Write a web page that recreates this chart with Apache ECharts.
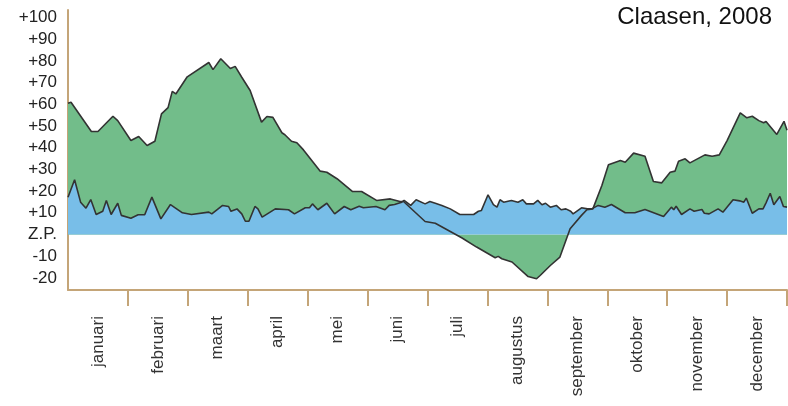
<!DOCTYPE html>
<html>
<head>
<meta charset="utf-8">
<script src="https://cdn.jsdelivr.net/npm/echarts@6/dist/echarts.min.js"></script>
<style>
  html, body { margin: 0; padding: 0; background: #fff; }
  #chart { width: 788px; height: 406px; }
</style>
</head>
<body>
<div id="chart"></div>
<script>
// maanden op de x-as
var months = ['januari', 'februari', 'maart', 'april', 'mei', 'juni', 'juli',
  'augustus', 'september', 'oktober', 'november', 'december']

// labels op de y-as
var yTicks = [100, 90, 80, 70, 60, 50, 40, 30, 20, 10, 0, -10, -20]

// bovenste lijn (groen vlak), positie in maanden
var greenPos = [0, 0.05, 0.39, 0.5, 0.75, 0.83, 1.05, 1.18, 1.32, 1.45, 1.56, 1.67, 1.74, 1.8, 1.99,
  2.35, 2.42, 2.55, 2.71, 2.79, 2.9, 3.04, 3.23, 3.32, 3.42, 3.57, 3.62, 3.73, 3.82, 3.93,
  4.21, 4.32, 4.49, 4.75, 4.9, 5.15, 5.38, 5.54, 5.6, 5.96, 6.13, 6.57, 6.82, 7.13, 7.18,
  7.24, 7.41, 7.68, 7.82, 7.88, 8.05, 8.21, 8.38, 8.57, 8.66, 8.76, 8.91, 9.02, 9.22, 9.3,
  9.44, 9.63, 9.77, 9.91, 10.05, 10.13, 10.19, 10.3, 10.38, 10.63, 10.75, 10.87, 11.0,
  11.22, 11.33, 11.42, 11.53, 11.61, 11.65, 11.83, 11.95, 12.0]
var greenVal = [60.5, 61, 47.5, 47.5, 54.5, 52.5, 43.3, 45.2, 41, 43, 55.6, 58.5, 66, 64.8, 72.7,
  79.3, 76, 81, 76.5, 77.5, 72.5, 66.4, 51.8, 54.4, 54, 46.9, 46, 43, 42.3, 39,
  29.2, 28.7, 25.7, 19.8, 19.8, 15.7, 16.4, 15.2, 15.2, 6, 5.2, -1.5, -5.8, -10.7, -10.1,
  -11.2, -12.7, -19.4, -20.4, -18.9, -14.3, -10.4, 2.6, 8.8, 11.4, 11.8, 22.6, 32.1, 34.1, 33.3,
  37.5, 36.1, 24.4, 23.8, 28.7, 29.2, 33.8, 34.9, 33, 36.7, 36.1, 36.7, 43.3,
  56.1, 53.8, 54.5, 52.5, 51.5, 52.1, 46.1, 52.2, 48]

// onderste lijn (blauw vlak)
var bluePos = [0, 0.11, 0.21, 0.3, 0.38, 0.47, 0.58, 0.64, 0.72, 0.83, 0.89, 1.05, 1.17, 1.28, 1.4,
  1.55, 1.71, 1.91, 2.06, 2.35, 2.4, 2.58, 2.68, 2.72, 2.82, 2.9, 2.96, 3.02, 3.12, 3.17,
  3.24, 3.46, 3.68, 3.78, 3.96, 4.03, 4.08, 4.17, 4.32, 4.45, 4.61, 4.72, 4.86, 4.93, 5.14,
  5.29, 5.36, 5.45, 5.57, 5.61, 5.72, 5.81, 5.96, 6.04, 6.13, 6.24, 6.38, 6.54, 6.77, 6.85,
  6.9, 7.01, 7.1, 7.16, 7.21, 7.27, 7.4, 7.51, 7.59, 7.65, 7.77, 7.84, 7.91, 7.97, 8.05,
  8.15, 8.23, 8.31, 8.39, 8.43, 8.57, 8.67, 8.74, 8.85, 8.96, 9.07, 9.3, 9.46, 9.63, 9.94,
  10.07, 10.11, 10.15, 10.24, 10.38, 10.45, 10.58, 10.62, 10.7, 10.85, 10.93, 11.1, 11.21,
  11.28, 11.32, 11.42, 11.53, 11.6, 11.65, 11.72, 11.78, 11.88, 11.94, 12.0]
var blueVal = [17.2, 25.2, 14.9, 12.1, 16.1, 9.2, 10.7, 15.7, 9.2, 14.4, 8.8, 7.5, 9.1, 9.1, 17.2,
  7.2, 13.8, 10, 9.2, 10.3, 9.5, 13.4, 12.9, 10.7, 11.8, 9.5, 6.1, 6.1, 12.9, 11.8,
  8, 11.8, 11.4, 9.5, 12.3, 12.3, 14.1, 11.4, 14.4, 9.5, 12.9, 11.4, 13, 12.3, 12.9,
  11.4, 13.4, 13.8, 14.9, 15.7, 13.4, 16, 14.1, 15.2, 14.4, 13.4, 11.8, 9.2, 9.2, 10.7,
  11.1, 18.3, 13.8, 12.6, 16, 14.9, 15.7, 14.9, 16, 14.1, 14.1, 15.7, 13.7, 14.4, 12.6,
  13.4, 11.4, 11.8, 10.7, 9.5, 12.3, 11.8, 11.8, 13.4, 12.6, 13.8, 10, 10, 11.5, 8.3,
  12.6, 11.4, 13, 9.2, 11.8, 10.7, 11.5, 9.8, 9.5, 11.8, 10.3, 16, 15.5,
  14.9, 16.8, 9.8, 11.8, 11.8, 14.6, 19, 13.7, 17.5, 12.9, 12.6]

function pairs (xs, ys) {
  return xs.map(function (x, i) { return [x, ys[i]] })
}

var axisColor = '#c4a578'
// smalle letter zoals in het origineel is er niet, Liberation Sans komt het dichtst bij
var labelFont = "'Liberation Sans Narrow', 'Liberation Sans', Arial, sans-serif"

var myChart = echarts.init(document.getElementById('chart'), null, { renderer: 'canvas' })
var myOption = {
  animation : false,
  //bron rechtsboven
  title : {
    text : 'Claasen, 2008',
    right : 11,
    top : 0,
    textStyle : {
      fontFamily : "'Liberation Sans', Arial, sans-serif",
      fontWeight : 'normal',
      fontSize : 24,
      color : '#111'
    }
  },
  //grid 0: data, grid 1: alleen y-labels
  grid : [
    { left : 68, right : 1, top : 10, bottom : 116 },
    { left : 68, right : 1, top : 17.5, bottom : 128.1 }
  ],
  xAxis : [
    {
      type : 'value', gridIndex : 0, min : 0, max : 12,
      show : false
    },
    {
      type : 'category', gridIndex : 0, position : 'bottom',
      data : months,
      boundaryGap : true,
      axisLine : { show : true, onZero : false, lineStyle : { color : axisColor, width : 2 } },
      axisTick : {
        show : true, length : 16,
        interval : function (index) { return index > 0 },
        lineStyle : { color : axisColor, width : 2 }
      },
      axisLabel : {
        rotate : 90, margin : 26, interval : 0,
        fontFamily : labelFont, fontSize : 17, color : '#333'
      },
      splitLine : { show : false }
    },
    {
      type : 'value', gridIndex : 1, min : 0, max : 12, show : false
    }
  ],
  yAxis : [
    {
      type : 'value', gridIndex : 0, min : -25.6, max : 103.5,
      axisLine : { show : true, lineStyle : { color : axisColor, width : 2 } },
      axisTick : { show : false },
      axisLabel : { show : false },
      splitLine : { show : false }
    },
    {
      type : 'value', gridIndex : 1, min : -20, max : 100, interval : 10,
      axisLine : { show : false },
      axisTick : { show : false },
      splitLine : { show : false },
      axisLabel : {
        margin : 11,
        fontFamily : labelFont, fontSize : 17, color : '#222',
        formatter : function (v) {
          if (yTicks.indexOf(v) < 0) return ''
          if (v === 0) return 'Z.P.'
          return v > 0 ? '+' + v : String(v)
        }
      }
    }
  ],
  series : [
    {
      name : 'groen vlak',
      type : 'line', xAxisIndex : 0, yAxisIndex : 0,
      data : pairs(greenPos, greenVal),
      symbol : 'none',
      lineStyle : { width : 0 },
      areaStyle : { color : '#72bd8a', opacity : 1 },
      z : 1
    },
    {
      name : 'blauw vlak',
      type : 'line', xAxisIndex : 0, yAxisIndex : 0,
      data : pairs(bluePos, blueVal),
      symbol : 'none',
      lineStyle : { color : '#333', width : 1.6 },
      areaStyle : { color : '#78bee8', opacity : 1 },
      z : 2
    },
    {
      name : 'groene lijn',
      type : 'line', xAxisIndex : 0, yAxisIndex : 0,
      data : pairs(greenPos, greenVal),
      symbol : 'none',
      lineStyle : { color : '#333', width : 1.6 },
      z : 3
    }
  ]
}
myChart.setOption(myOption)
</script>
</body>
</html>
